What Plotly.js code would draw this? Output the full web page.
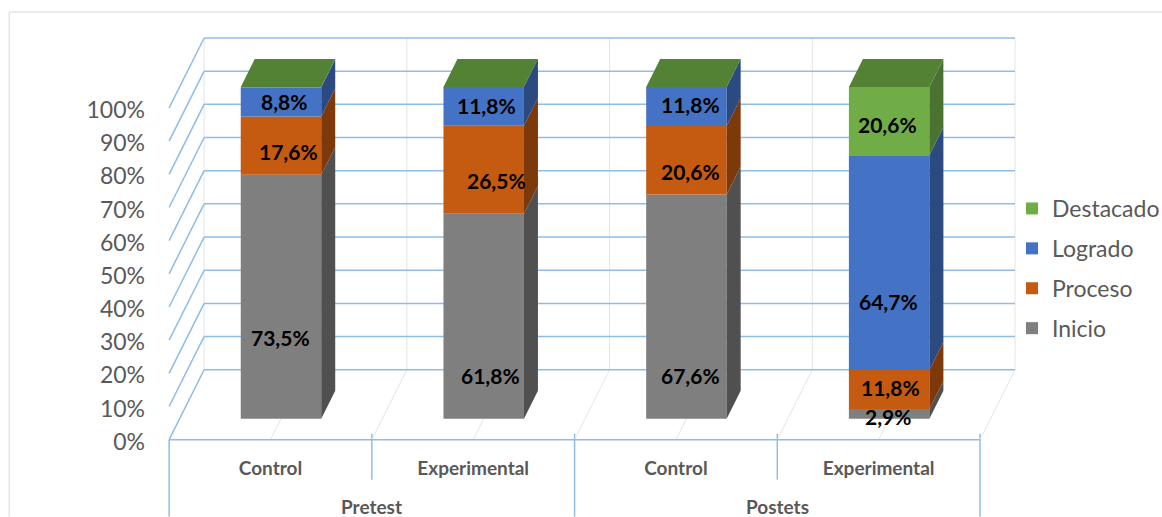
<!DOCTYPE html>
<html><head><meta charset="utf-8">
<style>html,body{margin:0;padding:0;background:#fff;overflow:hidden}</style>
<script src="https://cdn.plot.ly/plotly-3.0.1.min.js"></script>
</head><body><div id="chart" style="width:1162px;height:517px"></div>
<script>
const subCategories = ['Control','Experimental','Control','Experimental'];
const groups = ['Pretest','Postets'];
const seriesNames = ['Inicio','Proceso','Logrado','Destacado'];
const inicio = [73.5,61.8,67.6,2.9];
const proceso = [17.6,26.5,20.6,11.8];
const logrado = [8.8,11.8,11.8,64.7];
const destacado = [0,0,0,20.6];
const yTicks = [0,10,20,30,40,50,60,70,80,90,100];

const values = [inicio,proceso,logrado,destacado];
const frontColors = ['#7f7f7f','#c55a11','#4472c4','#70ad47'];
const sideColors = ['#505050','#7e390b','#2a4a80','#4a7230'];
const topColor = '#548235';

// Hand placement of data labels relative to the segment centre (as in the source)
const labelDx = [[0,7,4,-1],[8,13,4,1],[3,3,4,-1],[0,0,0,-2]];
const labelDy = [[-41,-59,-69,-3],[-6,-11,-11,2],[0,1,2,-39],[0,0,0,-3]];

// Axis geometry
const W=1162,H=517;
const pxX=202.75, pxY=3.32, x0=169, y0=440, backX=35, backY=70;
const xMin=-0.05, xMax=(1016+2-x0)/pxX, yMin=-1, yMax=(y0-36)/pxY;
const L=x0+xMin*pxX, R=x0+xMax*pxX, T=y0-yMax*pxY, B=y0-yMin*pxY;
const dX=backX/pxX, dY=backY/pxY, near=0.3, far=0.7, barW=80.5/pxX;
const px=v=>(v-L)/(R-L), py=v=>(B-v)/(B-T);
const blue='#8fbde8', gray='#e4e4e4';

const n=subCategories.length;
const xc=subCategories.map((_,i)=>i+0.5+near*dX);
const traces=[], annotations=[], shapes=[];
const cum=subCategories.map(()=>0);

values.forEach((vals,s)=>{
  const base=vals.map((v,i)=>cum[i]+near*dY);
  traces.push({type:'bar',name:seriesNames[s],x:xc,y:vals,base:base,width:barW,
    marker:{color:frontColors[s],line:{width:0}},legendgroup:seriesNames[s],legendrank:values.length-s,hoverinfo:'name+y'});
  const sx=[],sy=[];
  vals.forEach((v,i)=>{
    if(v<=0) return;
    const xr=xc[i]+barW/2, a=base[i], b=base[i]+v, d=(far-near);
    sx.push(xr,xr+d*dX,xr+d*dX,xr,xr,null);
    sy.push(a,a+d*dY,b+d*dY,b,a,null);
    annotations.push({x:xc[i],y:a+v/2,xref:'x',yref:'y',text:'<b>'+v.toFixed(1).replace('.',',')+'%</b>',
      showarrow:false,xshift:labelDx[s][i],yshift:labelDy[s][i],xanchor:'center',yanchor:'middle',
      font:{family:'Lato',size:21,color:'#000'}});
  });
  traces.push({type:'scatter',mode:'lines',x:sx,y:sy,fill:'toself',fillcolor:sideColors[s],
    line:{width:0,color:sideColors[s]},showlegend:false,hoverinfo:'skip'});
  vals.forEach((v,i)=>cum[i]+=v);
});
// top faces
{
  const sx=[],sy=[];
  cum.forEach((c,i)=>{
    const a=xc[i]-barW/2,b=xc[i]+barW/2,t=100+near*dY,d=far-near;
    sx.push(a,b,b+d*dX,a+d*dX,a,null);
    sy.push(t,t,t+d*dY,t+d*dY,t,null);
  });
  traces.push({type:'scatter',mode:'lines',x:sx,y:sy,fill:'toself',fillcolor:topColor,
    line:{width:0,color:topColor},showlegend:false,hoverinfo:'skip'});
}

const seg=(x1,y1,x2,y2,color,width,xref,yref)=>shapes.push({type:'line',layer:'below',x0:x1,y0:y1,x1:x2,y1:y2,xref:xref||'x',yref:yref||'y',line:{color:color,width:width}});
// back wall verticals and floor lines
for(let i=0;i<=n;i++){
  seg(i+dX,dY,i+dX,100+dY,gray,1);
  if(i>0) seg(i,0,i+dX,dY,gray,1);
  if(i<n) seg(i+0.5,0,i+0.5+dX*near,near*dY,gray,1);
}
// value gridlines: side wall + back wall
yTicks.forEach(t=>{
  seg(0,t,dX,t+dY,blue,1.5);
  seg(dX,t+dY,n+dX,t+dY,blue,1.5);
});
// base line and hierarchical category separators
seg(0,0,n,0,blue,1.5);
[[0,440,517],[1,434,480],[2,434,517],[3,434,480],[4,434,517]].forEach(d=>{
  shapes.push({type:'line',layer:'below',xref:'x',yref:'paper',x0:d[0],x1:d[0],y0:py(d[1]),y1:py(d[2]),line:{color:blue,width:1.5}});
});
// chart-area border
[[9,517,9,12],[9,12,1162,12]].forEach(d=>{
  shapes.push({type:'line',layer:'below',xref:'paper',yref:'paper',x0:px(d[0]),y0:py(d[1]),x1:px(d[2]),y1:py(d[3]),line:{color:'#d9d9d9',width:1}});
});
// group labels
groups.forEach((g,i)=>{
  annotations.push({x:2*i+1,y:py(507),xref:'x',yref:'paper',text:'<b>'+g+'</b>',showarrow:false,
    xanchor:'center',yanchor:'middle',font:{family:'Lato',size:19,color:'#595959'}});
});

Plotly.newPlot('chart',traces,{
  width:W,height:H,autosize:false,
  paper_bgcolor:'#fff',plot_bgcolor:'rgba(0,0,0,0)',
  margin:{l:L,r:W-R,t:T,b:H-B,pad:0,autoexpand:false},
  barmode:'overlay',
  xaxis:{range:[xMin,xMax],tickmode:'array',tickvals:subCategories.map((_,i)=>i+0.5),ticktext:subCategories.map(c=>'<b>'+c+'</b>'),
    showgrid:false,zeroline:false,showline:false,ticks:'',ticklabelstandoff:12,automargin:false,
    tickfont:{family:'Lato',size:19,color:'#595959'},fixedrange:true},
  yaxis:{range:[yMin,yMax],tickmode:'array',tickvals:yTicks,ticktext:yTicks.map(t=>t+'%'),
    showgrid:false,zeroline:false,showline:false,ticks:'',ticklabelstandoff:13,ticklabelshift:2,automargin:false,
    tickfont:{family:'Lato',size:23,color:'#595959'},fixedrange:true},
  legend:{xref:'container',yref:'container',x:1012/W,y:1-(187/H),xanchor:'left',yanchor:'top',
    traceorder:'grouped',tracegroupgap:7,font:{family:'Lato',size:23,color:'#595959'},bgcolor:'rgba(0,0,0,0)'},
  shapes:shapes,annotations:annotations,showlegend:true
},{displayModeBar:false});
</script></body></html>
